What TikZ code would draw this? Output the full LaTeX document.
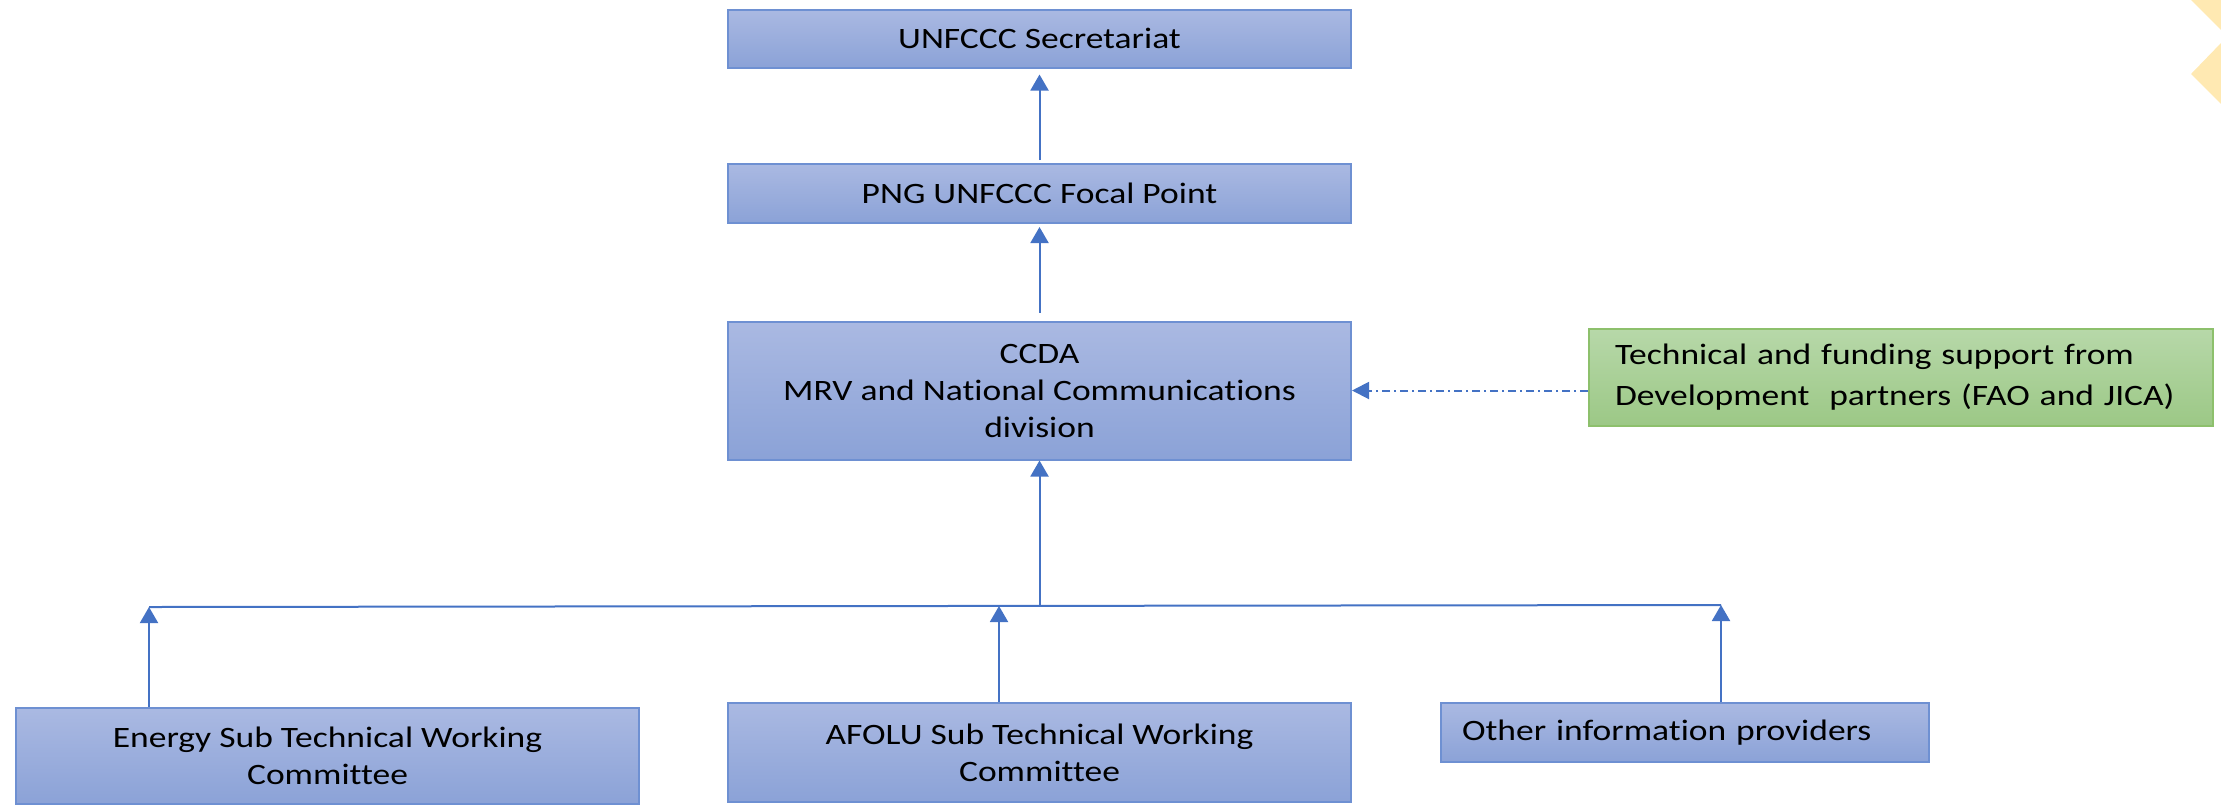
\documentclass[tikz,border=0pt]{standalone}
\usepackage{fontspec}
\setmainfont{Carlito}[FakeStretch=1.2, Ligatures=NoCommon]
\usetikzlibrary{arrows.meta}
\definecolor{lineblue}{HTML}{4472C4}
\definecolor{boxtop}{HTML}{AAB9E2}
\definecolor{boxbot}{HTML}{8BA2D7}
\definecolor{boxline}{HTML}{6E90D2}
\definecolor{grtop}{HTML}{B7D8A9}
\definecolor{grbot}{HTML}{9CC886}
\definecolor{grline}{HTML}{8DC06C}
\definecolor{deco}{HTML}{FFE9B2}
\tikzset{
  bluebox/.style={draw=boxline, line width=1pt, top color=boxtop, bottom color=boxbot,
    inner sep=0pt, align=center, font=\fontsize{14.8}{18.5}\selectfont},
  greenbox/.style={draw=grline, line width=1pt, top color=grtop, bottom color=grbot,
    inner ysep=0pt, align=left, font=\fontsize{14.8}{20.5}\selectfont},
  conn/.style={draw=lineblue, line width=1pt},
  arr/.style={conn, -{Triangle[width=9pt,length=8pt]}},
  dasharr/.style={conn, -{Triangle[width=8.5pt,length=8.5pt]}, dash pattern=on 4pt off 2pt on 1pt off 2pt},
}
\begin{document}
\begin{tikzpicture}[x=0.5pt,y=-0.5pt]
\useasboundingbox (0,0) rectangle (2221,805);
% decoration
\fill[deco] (2191,0) -- (2221,30) -- (2221,0) -- cycle;
\fill[deco] (2221,43) -- (2191,74) -- (2221,104) -- cycle;
% boxes
\node[bluebox, minimum width=311.5pt, minimum height=29pt] (sec) at (1039.5,38.5) {UNFCCC Secretariat};
\node[bluebox, minimum width=311.5pt, minimum height=29.5pt] (focal) at (1039.5,193.5) {PNG UNFCCC Focal Point};
\node[bluebox, minimum width=311.5pt, minimum height=69pt] (ccda) at (1039.5,390.5) {CCDA\\MRV and National Communications\\division};
\node[greenbox, text width=286pt, inner xsep=13pt, minimum height=48.5pt] (green) at (1901,377) {Technical and funding support from\\Development\ \ partners (FAO and JICA)};
\node[bluebox, minimum width=311.5pt, minimum height=48pt] (energy) at (327.5,756) {Energy Sub Technical Working\\Committee};
\node[bluebox, minimum width=311.5pt, minimum height=49.5pt] (afolu) at (1039.5,752.5) {AFOLU Sub Technical Working\\Committee};
\node[bluebox, align=left, text width=223pt, inner xsep=10.5pt, minimum height=29.5pt] (other) at (1685,732.5) {Other information providers};
% bus coordinates
\coordinate (eBus) at (149,607);
\coordinate (aBus) at (999,606);
\coordinate (oBus) at (1721,605);
% connectors
\draw[arr, shorten <=1.5pt, shorten >=3pt] (focal.north) -- (sec.south);
\draw[arr, shorten <=4pt, shorten >=1.5pt] (ccda.north) -- (focal.south);
\draw[dasharr] (green.west |- ccda.east) -- (ccda.east);
\draw[conn] (eBus) -- (oBus);
\draw[arr] (ccda.south |- aBus) -- (ccda.south);
\draw[arr] (energy.north -| eBus) -- (eBus);
\draw[arr] (afolu.north -| aBus) -- (aBus);
\draw[arr] (other.north -| oBus) -- (oBus);
\end{tikzpicture}
\end{document}
